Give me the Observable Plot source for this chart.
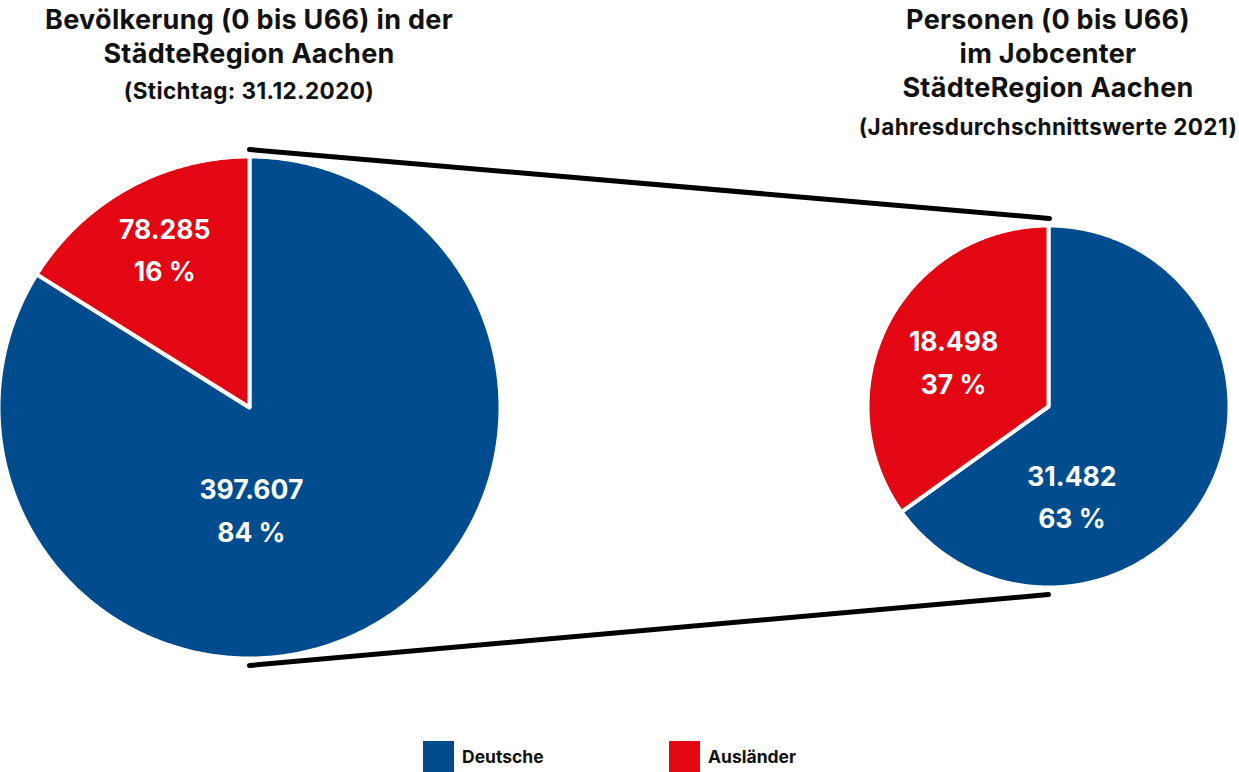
<!DOCTYPE html>
<html>
<head>
<meta charset="utf-8">
<script src="https://cdn.jsdelivr.net/npm/d3@7"></script>
<script src="https://cdn.jsdelivr.net/npm/@observablehq/plot@0.6"></script>
<style>
  html, body { margin: 0; padding: 0; background: #fff; overflow: hidden; }
  #wrap { position: relative; width: 1239px; height: 772px; font-family: "Inter", "Roboto", sans-serif; font-weight: 700; color: #111; }
  #wrap svg { position: absolute; left: 0; top: 0; }
  .title { position: absolute; text-align: center; }
  .title .t { font-size: 27px; line-height: 34px; letter-spacing: 0.3px; white-space: nowrap; }
  .title .s { font-size: 22.5px; line-height: 38px; margin-top: 1px; letter-spacing: 0.4px; white-space: nowrap; }
  .leg { position: absolute; display: flex; align-items: center; font-size: 17.5px; }
  .leg .sw { width: 31px; height: 31px; margin-right: 8px; }
</style>
</head>
<body>
<div id="wrap"></div>
<script>
// ---------- data ----------
const groups = ["Deutsche", "Ausländer"];
const groupColors = ["#004c8f", "#e30613"];
const pieIds = ["bevoelkerung", "jobcenter"];
const bevoelkerungValues = [397607, 78285];
const jobcenterValues = [31482, 18498];
// slice shares as drawn in the picture (angles)
const bevoelkerungDrawnShares = [0.839, 0.161];
const jobcenterDrawnShares = [0.651, 0.349];
const titleLines = [
  ["Bevölkerung (0 bis U66) in der", "StädteRegion Aachen"],
  ["Personen (0 bis U66)", "im Jobcenter", "StädteRegion Aachen"]
];
const subtitles = ["(Stichtag: 31.12.2020)", "(Jahresdurchschnittswerte 2021)"];

// ---------- layout ----------
const W = 1239, H = 772;
const layout = {
  bevoelkerung: {cx: 249, cy: 407, r: 249, label: {Deutsche: [179, 0.426], "Ausländer": [-28.8, 0.707]}},
  jobcenter:    {cx: 1048, cy: 406, r: 179, label: {Deutsche: [166, 0.54], "Ausländer": [-66.6, 0.578]}}
};
const lineGap = 9;

const de = d3.formatLocale({decimal: ",", thousands: ".", grouping: [3], currency: ["", " €"]});
const fmt = de.format(",d");

const valuesById = {bevoelkerung: bevoelkerungValues, jobcenter: jobcenterValues};
const sharesById = {bevoelkerung: bevoelkerungDrawnShares, jobcenter: jobcenterDrawnShares};
const rad = Math.PI / 180;

const slicePoints = [];
const labels = [];
for (const id of pieIds) {
  const L = layout[id];
  const vals = valuesById[id];
  const total = d3.sum(vals);
  const arcs = d3.pie().sort(null).value(d => d)(sharesById[id]);
  arcs.forEach((a, i) => {
    const g = groups[i];
    const key = id + "-" + g;
    const R = L.r + 2; // compensate white outline
    slicePoints.push({key, group: g, x: L.cx, y: L.cy});
    const n = Math.max(2, Math.ceil((a.endAngle - a.startAngle) / (0.5 * rad)));
    for (let k = 0; k <= n; k++) {
      const t = a.startAngle + (a.endAngle - a.startAngle) * k / n;
      slicePoints.push({key, group: g, x: L.cx + R * Math.sin(t), y: L.cy - R * Math.cos(t)});
    }
    slicePoints.push({key, group: g, x: L.cx, y: L.cy});
    const [angDeg, frac] = L.label[g];
    const ang = angDeg * rad;
    labels.push({
      x: L.cx + frac * L.r * Math.sin(ang),
      y: L.cy - frac * L.r * Math.cos(ang),
      text: fmt(vals[i]) + "\n" + Math.round(vals[i] / total * 100) + " %"
    });
  });
}

const A = layout.bevoelkerung, B = layout.jobcenter;
const links = [
  {x1: A.cx, y1: A.cy - A.r - lineGap, x2: B.cx + 1, y2: B.cy - B.r - lineGap},
  {x1: A.cx, y1: A.cy + A.r + lineGap, x2: B.cx, y2: B.cy + B.r + lineGap}
];

const chart = Plot.plot({
  width: W, height: H, margin: 0,
  x: {domain: [0, W], range: [0, W], axis: null},
  y: {domain: [0, H], range: [0, H], axis: null},
  color: {domain: groups, range: groupColors},
  style: {background: "transparent", overflow: "visible"},
  marks: [
    Plot.link(links, {x1: "x1", y1: "y1", x2: "x2", y2: "y2", stroke: "#000", strokeWidth: 5, strokeLinecap: "round"}),
    Plot.line(slicePoints, {x: "x", y: "y", z: "key", fill: "group", stroke: "#fff", strokeWidth: 4, strokeLinejoin: "round", curve: "linear"}),
    Plot.text(labels, {x: "x", y: "y", dy: -7, text: "text", fill: "#fff", fontSize: 26.5, fontWeight: 700, lineHeight: 1.62, lineAnchor: "middle", fontFamily: "Inter, Roboto, sans-serif"})
  ]
});

const wrap = document.getElementById("wrap");
wrap.appendChild(chart);

// titles
const titlePos = [
  {left: A.cx - 250, width: 500, top: 3},
  {left: B.cx - 200, width: 400, top: 3}
];
titleLines.forEach((lines, i) => {
  const d = document.createElement("div");
  d.className = "title";
  d.style.left = titlePos[i].left + "px";
  d.style.width = titlePos[i].width + "px";
  d.style.top = titlePos[i].top + "px";
  lines.forEach(l => { const e = document.createElement("div"); e.className = "t"; e.textContent = l; d.appendChild(e); });
  const s = document.createElement("div"); s.className = "s"; s.textContent = subtitles[i];
  if (lines.length > 2) s.style.marginTop = "3px";
  d.appendChild(s);
  wrap.appendChild(d);
});

// legend
const legendLeft = [423, 669];
groups.forEach((g, i) => {
  const d = document.createElement("div");
  d.className = "leg";
  d.style.left = legendLeft[i] + "px";
  d.style.top = "741px";
  const sw = document.createElement("div"); sw.className = "sw"; sw.style.background = groupColors[i];
  const t = document.createElement("span"); t.textContent = g;
  d.appendChild(sw); d.appendChild(t);
  wrap.appendChild(d);
});
</script>
</body>
</html>
